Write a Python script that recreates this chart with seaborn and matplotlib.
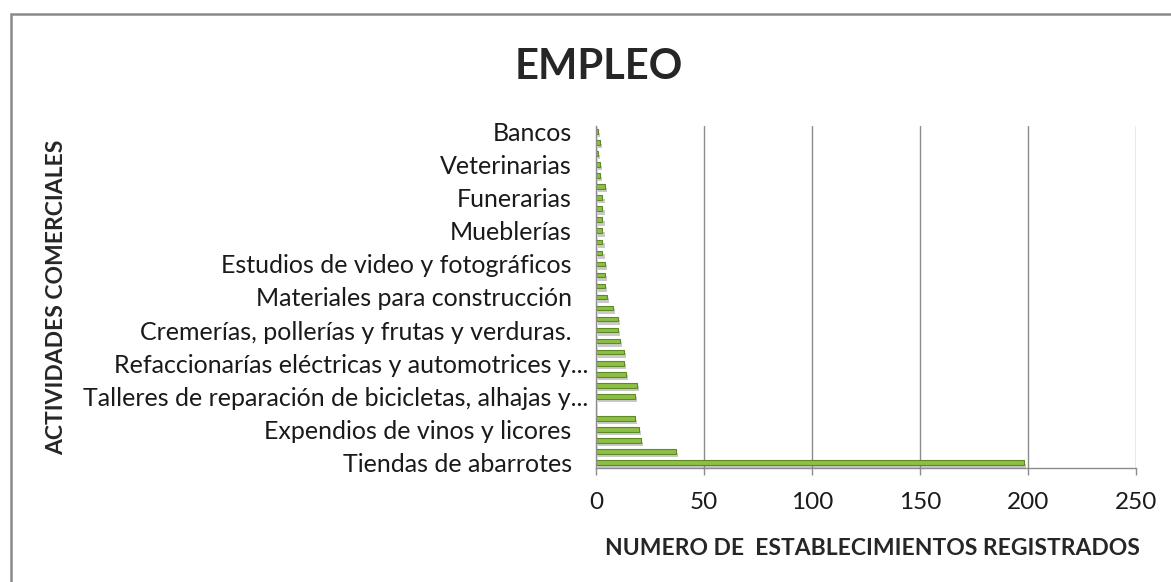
import matplotlib
matplotlib.use("Agg")
import matplotlib.pyplot as plt
import matplotlib.patheffects as pe
from matplotlib.patches import Rectangle
from matplotlib.transforms import ScaledTranslation
import pandas as pd
import seaborn as sns

# Datos (de arriba hacia abajo, como aparecen en el grafico)
actividades = [
    "Bancos", "Casas de cambio", "Agencias de viajes",
    "Veterinarias", "Ópticas", "Gasolineras",
    "Funerarias", "Librerías", "Joyerías",
    "Mueblerías", "Florerías", "Boutiques",
    "Estudios de video y fotográficos", "Zapaterías", "Mercerías",
    "Materiales para construcción", "Carnicerías", "Panaderías",
    "Cremerías, pollerías y frutas y verduras.", "Tortillerías", "Estéticas",
    "Refaccionarías eléctricas y automotrices y...", "Ferreterías", "Farmacias",
    "Talleres de reparación de bicicletas, alhajas y...", "Lavanderías", "Papelerías",
    "Expendios de vinos y licores", "Fondas y loncherías", "Misceláneas",
    "Tiendas de abarrotes",
]
establecimientos = [
    1, 2, 1,
    2, 2, 4,
    3, 3, 3,
    3, 3, 3,
    4, 4, 4,
    5, 8, 10,
    10, 11, 13,
    13, 14, 19,
    18, 0, 18,
    20, 21, 37,
    198,
]
# solo se muestra una de cada tres etiquetas
etiquetas_visibles = actividades[::3]

df = pd.DataFrame({"Actividad": actividades, "Numero": establecimientos})

sns.set_style("white")
plt.rcParams["font.family"] = ["Lato", "DejaVu Sans"]

fig = plt.figure(figsize=(11.71, 5.82), dpi=100)
ax = fig.add_axes([596 / 1171, 114 / 582, 540 / 1171, 342 / 582])

sns.barplot(data=df, x="Numero", y="Actividad", orient="h", color="#8DBF45",
            width=0.42, edgecolor="#5E8A25", linewidth=0.8, saturation=1, ax=ax)

for bar in ax.patches:
    bar.set_path_effects([
        pe.SimplePatchShadow(offset=(1.5, -2.5), shadow_rgbFace="#888888", alpha=0.45),
        pe.Normal(),
    ])

ax.set_xlim(0, 250)
ax.set_xticks(range(0, 251, 50))
ax.grid(axis="x", color="#8c8c8c", linewidth=1)
ax.set_axisbelow(True)

ax.set_yticks([actividades.index(e) for e in etiquetas_visibles])
ax.set_yticklabels(etiquetas_visibles)

for s in ["top", "right"]:
    ax.spines[s].set_visible(False)
for s in ["left", "bottom"]:
    ax.spines[s].set_color("#8c8c8c")
    ax.spines[s].set_linewidth(1)

ax.tick_params(axis="x", bottom=True, length=5, width=1, color="#8c8c8c",
               pad=12, labelsize=17.5, labelcolor="#1a1a1a")
ax.tick_params(axis="y", left=False, pad=14, labelsize=18, labelcolor="#1a1a1a")

# las etiquetas recortadas de Excel se salen un poco hacia la derecha
for lab in ax.get_yticklabels():
    if lab.get_text().endswith("..."):
        lab.set_transform(lab.get_transform() + ScaledTranslation(17 / 100, 0, fig.dpi_scale_trans))

ax.set_xlabel("NUMERO DE  ESTABLECIMIENTOS REGISTRADOS", fontsize=16.5, fontweight="bold")
ax.xaxis.set_label_coords(0.511, -0.205)
ax.set_ylabel("ACTIVIDADES COMERCIALES", fontsize=16.5, fontweight="bold")
ax.yaxis.set_label_coords(-0.98, 0.5)

fig.text(599 / 1171, 1 - 67 / 582, "EMPLEO", fontsize=30, fontweight="bold",
         ha="center", va="center")

# marco del grafico
fig.patches.append(Rectangle((10.5 / 1171, -0.1), 1.2, 1 - 13.5 / 582 + 0.1,
                             transform=fig.transFigure, fill=False,
                             edgecolor="#8a8a8a", linewidth=1.8))

fig.savefig("out.png", dpi=100)
